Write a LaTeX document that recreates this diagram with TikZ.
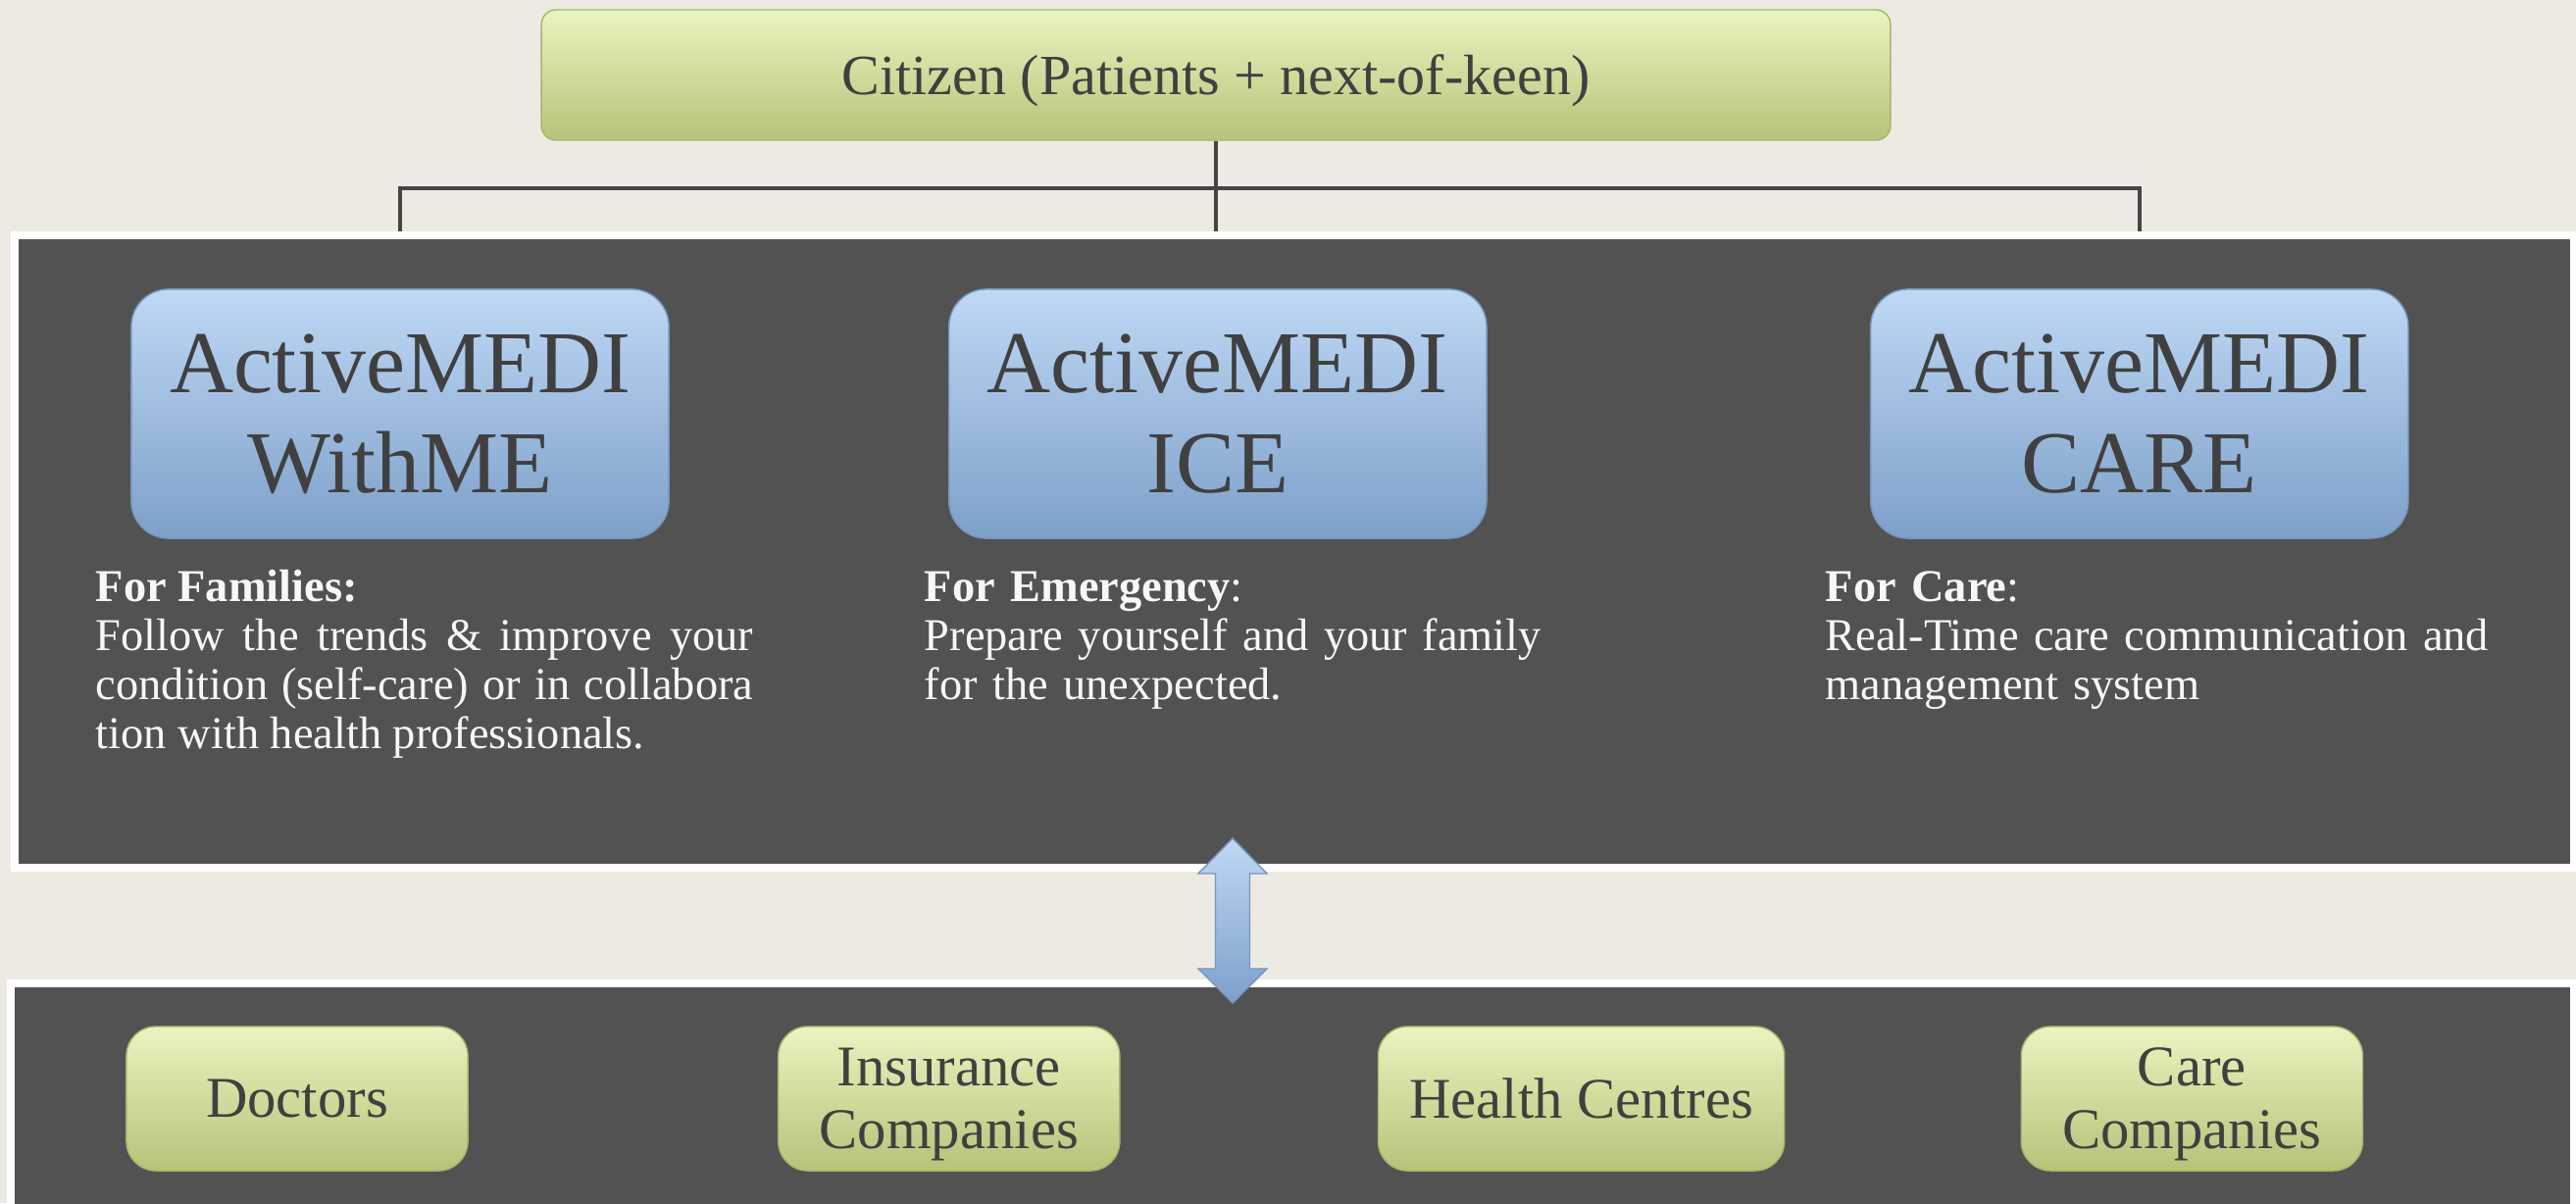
\documentclass[tikz,border=0pt]{standalone}
\usepackage{fontspec}
\setmainfont{Liberation Serif}
\usepackage{xcolor}
\usetikzlibrary{shapes,arrows,positioning,calc}

\definecolor{paper}{HTML}{EDEAE4}
\definecolor{panel}{HTML}{525252}
\definecolor{ink}{HTML}{404040}
\definecolor{treeline}{HTML}{454545}
\definecolor{bluetop}{HTML}{BFD8F5}
\definecolor{bluebot}{HTML}{7DA0C9}
\definecolor{blueline}{HTML}{7595BD}
\definecolor{greentop}{HTML}{EAF4C0}
\definecolor{greenbot}{HTML}{B8C279}
\definecolor{greenline}{HTML}{A6B56C}

\pgfdeclarelayer{paperlayer}
\pgfdeclarelayer{panellayer}
\pgfsetlayers{paperlayer,panellayer,main}

\tikzset{medi/.style={
    rectangle,
    rounded corners=0.38cm,
    draw=blueline,
    thin,
    top color=bluetop, bottom color=bluebot,
    minimum width=5.48cm, minimum height=2.54cm,
    text=ink,
    align=center,
    font=\fontsize{25.6}{29}\selectfont,
  }}

\begin{document}
\begin{tikzpicture}[x=0.01cm, y=-0.01cm,
    rootbox/.style={
      rectangle, rounded corners=0.15cm,
      draw=greenline, thin,
      top color=greentop, bottom color=greenbot,
      minimum width=13.75cm, minimum height=1.33cm,
      text depth=0pt,
      text=ink, font=\fontsize{16.5}{18}\selectfont
    },
    partner/.style={
      rectangle, rounded corners=0.3cm,
      draw=greenline, thin,
      top color=greentop, bottom color=greenbot,
      minimum width=3.48cm, minimum height=1.47cm,
      text depth=0pt,
      text=ink, align=center,
      font=\fontsize{16.7}{18.2}\selectfont
    },
    desc/.style={
      inner sep=0pt, anchor=base west,
      text=white!97!black,
      font=\fontsize{13.2}{14.2}\selectfont
    },
    tree/.style={draw=treeline, line width=0.035cm}]

    % paper and the two panels
    \begin{pgfonlayer}{paperlayer}
      \fill[paper] (0,0) rectangle (2627,1227);
    \end{pgfonlayer}
    \useasboundingbox (0,0) rectangle (2627,1227);
    \begin{pgfonlayer}{panellayer}
      \filldraw[fill=panel, draw=white, line width=0.08cm] (15,240) rectangle (2625,885);
      \filldraw[fill=panel, draw=white, line width=0.08cm] (11,1003) rectangle (2625,1260);
    \end{pgfonlayer}

    % Root
    \node (citizen) [rootbox] at (1240,76.5) {Citizen (Patients + next-of-keen)};

    % Products
    \node (withme) [medi] at (408,422) {ActiveMEDI\\WithME};
    \node (ice) [medi, right=2.84cm of withme] {ActiveMEDI\\ICE};
    \node (care) [medi, right=3.9cm of ice] {ActiveMEDI\\CARE};

    % tree runs under the panel
    \begin{pgfonlayer}{paperlayer}
      \coordinate (fork) at (1240,192);
      \draw[tree] (citizen.south) -- (fork) -| (withme.north);
      \draw[tree] (fork) -| (care.north);
      \draw[tree] (fork) -- (fork |- ice.north);
    \end{pgfonlayer}

    % Descriptions
    \node (withmetxt) [desc, text width=6.7cm, align=justify] at ($(withme.south west)+(-36,64)$)
      {\textbf{For Families:}\\
       Follow the trends \& improve your\linebreak
       condition (self-care) or in collabora\linebreak
       tion with health professionals.};
    \node (icetxt) [desc, text width=7cm, align=left] at ($(ice.south west)+(-25,64)$)
      {\textbf{For Emergency}:\\
       Prepare yourself and your family\\
       for the unexpected.};
    \node (caretxt) [desc, text width=7.5cm, align=left] at ($(care.south west)+(-46,64)$)
      {\textbf{For Care}:\\
       Real-Time care communication and\\
       management system};

    % link between the panels
    \coordinate (link) at (1257,939);
    \shade[top color=bluetop, bottom color=bluebot, draw=blueline, thin]
      (link) ++(0,-84) -- ++(35,36) -- ++(-17.5,0) -- ++(0,97) -- ++(17.5,0)
      -- ++(-35,35) -- ++(-35,-35) -- ++(17.5,0) -- ++(0,-97) -- ++(-17.5,0) -- cycle;

    % Partners
    \node (doctors) [partner] at (303,1120.5) {Doctors};
    \node (insurance) [partner, right=3.15cm of doctors] {Insurance\\Companies};
    \node (health) [partner, minimum width=4.14cm, right=2.62cm of insurance] {Health Centres};
    \node (carecos) [partner, right=2.4cm of health] {Care\\Companies};

\end{tikzpicture}
\end{document}
